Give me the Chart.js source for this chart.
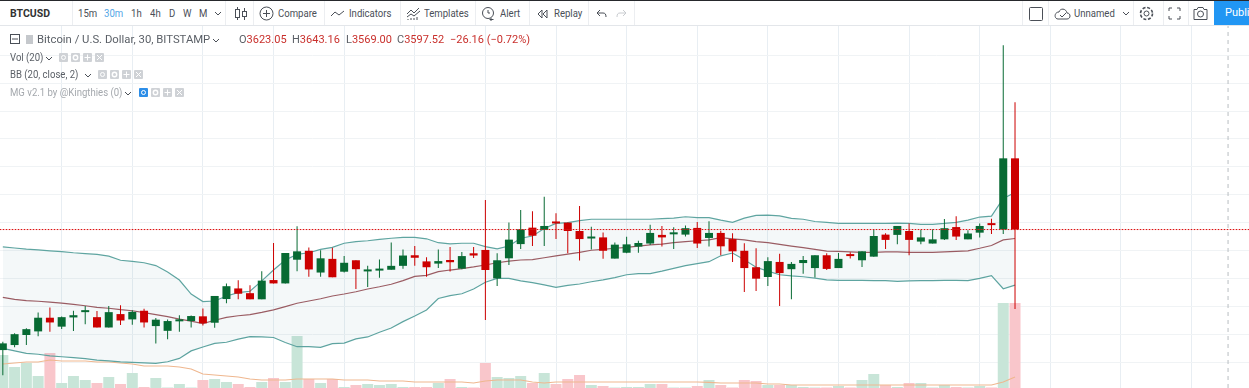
<!DOCTYPE html>
<html>
<head>
<meta charset="utf-8">
<title>BTCUSD</title>
<script src="https://cdn.jsdelivr.net/npm/chart.js@4/dist/chart.umd.js"></script>
<style>
    html, body { margin: 0; padding: 0; background: #fff; overflow: hidden; }
    body { width: 1249px; height: 388px; position: relative; font-family: Roboto, sans-serif; color: #4a4f57; }
    #priceChart { position: absolute; left: 0; top: 26px; }
    .t { position: absolute; white-space: nowrap; font-size: 11px; line-height: 14px; }
    .narrow { transform: scaleX(0.87); transform-origin: left center; }
    .bar { position: absolute; left: 0; top: 0; width: 1249px; height: 26px; background: #fff; border-bottom: 1px solid #e3e6ea; border-top: 1px solid #26282c; box-sizing: border-box; }
    .sep { position: absolute; top: 1px; height: 24px; width: 1px; background: #eceef1; }
    .ico { position: absolute; }
    .btn { position: absolute; width: 9px; height: 9px; background: #cfd2d6; border-radius: 1px; }
    .btn.on { background: #2d8ee8; }
    .btn svg { position: absolute; left: 0; top: 0; }
    .lg { font-size: 11px; color: #5a5f66; }
    .val { font-size: 11px; color: #c9302c; }
</style>
</head>
<body>
<canvas id="priceChart" width="1249" height="362"></canvas>

<div class="bar"></div>
<div id="toolbar"></div>
<div id="legend"></div>

<script>
// candles, oldest first
const opens = [3554.3, 3556.1, 3559.7, 3561.0, 3565.9, 3562.7, 3566.0, 3567.9, 3566.1, 3562.4, 3567.2, 3565.3, 3568.4, 3562.9, 3561.2, 3564.6, 3564.7, 3566.4, 3564.1, 3572.6, 3576.4, 3574.7, 3572.5, 3579.4, 3578.2, 3586.7, 3589.9, 3582.1, 3587.0, 3582.4, 3586.5, 3582.5, 3582.8, 3583.1, 3584.5, 3588.3, 3586.1, 3585.3, 3586.6, 3583.5, 3589.0, 3590.2, 3580.0, 3587.2, 3592.3, 3598.2, 3597.4, 3600.0, 3600.0, 3597.0, 3594.3, 3594.7, 3587.1, 3589.2, 3591.4, 3592.5, 3595.6, 3595.8, 3595.7, 3598.1, 3594.5, 3596.3, 3594.1, 3589.9, 3584.0, 3580.5, 3585.9, 3583.3, 3585.5, 3583.7, 3588.3, 3583.7, 3588.3, 3586.5, 3587.8, 3595.7, 3595.6, 3597.0, 3593.2, 3592.5, 3594.0, 3598.4, 3594.0, 3596.4, 3599.4, 3597.5, 3623.05];
const highs = [3557.3, 3560.3, 3562.1, 3567.8, 3569.6, 3566.3, 3568.4, 3570.1, 3568.3, 3570.1, 3570.4, 3568.6, 3569.1, 3565.8, 3565.3, 3566.8, 3566.7, 3569.2, 3573.7, 3578.2, 3579.3, 3577.5, 3582.6, 3592.7, 3589.1, 3598.7, 3591.1, 3590.1, 3591.0, 3588.0, 3586.5, 3584.5, 3586.8, 3592.9, 3590.4, 3591.6, 3587.6, 3590.4, 3591.3, 3589.5, 3591.3, 3608.1, 3589.0, 3600.0, 3604.5, 3604.1, 3609.3, 3603.4, 3600.0, 3606.0, 3598.5, 3596.5, 3592.9, 3594.9, 3593.5, 3599.2, 3598.8, 3598.3, 3599.0, 3600.2, 3600.5, 3597.1, 3596.2, 3592.6, 3590.8, 3587.6, 3588.8, 3585.9, 3588.0, 3588.3, 3589.0, 3589.1, 3589.4, 3589.7, 3597.6, 3596.2, 3598.8, 3599.7, 3597.4, 3597.6, 3601.3, 3602.3, 3597.3, 3599.7, 3601.4, 3663.6, 3643.16];
const lows = [3545.3, 3555.3, 3556.1, 3559.3, 3560.9, 3561.9, 3561.1, 3563.6, 3562.4, 3562.4, 3563.3, 3563.4, 3562.4, 3556.7, 3558.2, 3560.9, 3562.4, 3563.1, 3562.3, 3571.1, 3572.5, 3572.5, 3572.5, 3578.2, 3578.2, 3582.6, 3580.6, 3580.6, 3580.4, 3582.1, 3576.2, 3576.9, 3580.2, 3583.1, 3583.5, 3584.5, 3580.6, 3583.7, 3582.5, 3583.3, 3587.3, 3565.1, 3577.3, 3584.8, 3590.5, 3591.6, 3591.6, 3594.1, 3589.0, 3586.4, 3590.4, 3587.0, 3587.1, 3589.0, 3589.2, 3592.0, 3591.4, 3590.5, 3595.0, 3590.9, 3591.4, 3588.3, 3585.9, 3575.1, 3575.5, 3577.3, 3570.1, 3572.5, 3581.7, 3580.3, 3583.0, 3583.7, 3587.1, 3584.1, 3587.8, 3590.5, 3592.2, 3588.3, 3592.2, 3592.5, 3593.8, 3593.8, 3594.0, 3594.7, 3595.9, 3595.9, 3569.00];
const closes = [3556.7, 3560.0, 3561.8, 3565.9, 3564.2, 3566.1, 3566.8, 3568.2, 3562.4, 3567.9, 3564.9, 3568.0, 3564.2, 3565.2, 3564.7, 3565.0, 3566.5, 3563.9, 3573.7, 3577.2, 3574.5, 3572.5, 3579.2, 3578.2, 3589.1, 3589.7, 3583.2, 3587.2, 3580.4, 3585.6, 3583.3, 3583.0, 3583.4, 3584.5, 3588.2, 3587.4, 3584.0, 3586.2, 3585.8, 3588.0, 3588.2, 3583.0, 3586.5, 3593.9, 3597.6, 3595.3, 3598.8, 3599.7, 3597.0, 3594.1, 3594.7, 3589.9, 3592.1, 3592.2, 3592.7, 3596.3, 3594.7, 3596.3, 3598.0, 3592.5, 3596.3, 3591.5, 3589.7, 3583.7, 3579.9, 3586.2, 3581.9, 3585.2, 3586.6, 3588.3, 3583.4, 3587.0, 3588.0, 3589.7, 3595.2, 3593.8, 3598.8, 3593.8, 3594.7, 3594.0, 3598.0, 3595.0, 3596.1, 3598.8, 3599.1, 3623.05, 3597.52];
const volumes = [33, 21, 25, 12, 35, 5, 12, 8, 5, 11, 4, 15, 1, 10, 0.5, 4, 0.5, 8, 9, 6, 4, 1, 6, 10, 6, 52, 9, 5, 9, 1, 3, 4, 3, 4, 1, 1, 1, 5, 9, 1, 0.5, 25, 11, 10, 12, 5, 15, 4, 9, 13, 3, 2, 0.5, 1, 1, 4, 4, 0.5, 0.5, 2, 8, 3, 0.5, 8, 7, 3, 3, 3, 1, 0.5, 0.5, 2, 0.5, 8, 14, 3, 1, 5, 5, 0.5, 3, 1, 0.5, 2, 0.5, 85, 85];

// BB (20, close, 2)
const bbUpper = [3591.3, 3590.9, 3590.5, 3590.2, 3589.9, 3589.6, 3589.2, 3588.9, 3588.6, 3588.0, 3586.5, 3586.1, 3585.6, 3584.6, 3582.3, 3579.4, 3574.4, 3571.7, 3571.9, 3573.7, 3574.9, 3575.4, 3579.1, 3583.0, 3586.6, 3588.6, 3589.2, 3590.4, 3591.1, 3592.6, 3593.2, 3593.5, 3594.0, 3594.4, 3594.7, 3594.7, 3594.2, 3592.8, 3592.4, 3592.6, 3592.6, 3591.4, 3590.6, 3591.6, 3594.4, 3595.2, 3597.9, 3599.7, 3600.0, 3600.7, 3601.2, 3601.2, 3601.2, 3601.2, 3601.2, 3601.2, 3601.4, 3601.6, 3602.1, 3601.8, 3601.8, 3600.9, 3600.1, 3601.6, 3602.6, 3602.7, 3602.4, 3601.5, 3601.2, 3600.4, 3600.1, 3599.7, 3599.7, 3599.7, 3599.7, 3599.7, 3599.8, 3599.7, 3599.4, 3599.4, 3599.7, 3600.1, 3600.9, 3602.0, 3602.3, 3608.7, 3610.8];
const bbBasis = [3573.2, 3572.5, 3572.0, 3571.8, 3571.5, 3571.1, 3570.7, 3570.2, 3569.6, 3569.3, 3568.8, 3568.4, 3567.7, 3567.0, 3566.3, 3565.4, 3564.7, 3563.8, 3565.0, 3566.0, 3566.6, 3567.0, 3567.8, 3568.7, 3569.9, 3571.1, 3571.9, 3572.7, 3573.7, 3574.4, 3575.2, 3576.2, 3577.0, 3577.9, 3579.2, 3580.7, 3581.1, 3582.4, 3583.0, 3583.5, 3584.1, 3584.8, 3585.6, 3586.2, 3586.6, 3586.7, 3587.4, 3588.1, 3588.7, 3589.3, 3590.1, 3590.4, 3590.8, 3591.1, 3591.6, 3592.0, 3592.3, 3592.8, 3593.2, 3593.5, 3593.8, 3594.6, 3594.2, 3593.8, 3593.2, 3592.8, 3592.2, 3591.6, 3591.0, 3590.4, 3589.8, 3589.7, 3589.5, 3589.3, 3589.3, 3589.5, 3589.5, 3589.3, 3589.3, 3589.3, 3589.5, 3589.7, 3589.9, 3590.8, 3591.8, 3593.8, 3594.3];
const bbLower = [3554.9, 3554.0, 3553.1, 3552.8, 3552.2, 3551.9, 3551.6, 3551.2, 3550.7, 3550.4, 3550.1, 3549.9, 3549.7, 3549.5, 3550.1, 3551.3, 3554.0, 3555.4, 3556.7, 3557.1, 3558.2, 3559.1, 3559.0, 3558.8, 3557.0, 3555.5, 3555.5, 3555.3, 3556.6, 3556.8, 3558.3, 3559.0, 3560.7, 3562.2, 3564.5, 3566.5, 3568.7, 3572.8, 3573.8, 3574.5, 3576.2, 3578.6, 3580.0, 3580.0, 3579.1, 3578.5, 3577.7, 3576.8, 3577.5, 3578.0, 3578.8, 3579.5, 3580.3, 3581.3, 3581.7, 3581.7, 3582.6, 3583.6, 3584.6, 3585.3, 3586.0, 3588.1, 3589.1, 3586.7, 3584.0, 3582.6, 3581.3, 3580.9, 3580.6, 3580.1, 3579.5, 3579.3, 3579.3, 3579.3, 3579.2, 3579.2, 3578.9, 3579.1, 3579.2, 3579.2, 3579.3, 3579.3, 3579.2, 3580.0, 3581.0, 3576.3, 3577.6];

// Vol (20) moving average
const volMa = [24, 25, 26, 26, 28, 27, 27, 27, 26, 26, 25, 24, 22, 22, 22, 21, 19, 14, 13, 12, 11, 9, 8, 8, 8, 9, 9, 9, 9, 8, 8, 8, 7, 7, 7, 6, 6, 6, 6, 6, 5, 7, 8, 8, 8, 6, 5, 6, 6, 6, 6, 6, 6, 6, 6, 6, 6, 6, 6, 6, 5.7, 5, 5, 5, 5, 4, 4, 3, 3, 3, 3, 3, 3, 3, 3, 3, 3, 3, 3, 3, 3, 3, 3, 3, 3, 6, 11];

// axis settings
const priceGrid = [3550, 3560, 3570, 3580, 3590, 3600, 3610, 3620, 3630, 3640, 3650, 3660];
const timeGrid = [5, 11, 17, 23, 29, 35, 41, 47, 53, 59, 65, 71, 77, 83, 89, 95, 101];
const lastClose = 3597.52;
const cursorIndex = 104.1;
const priceMin = 3540.7;
const priceMax = 3670.5;
const indexMin = -0.24;
const indexMax = 105.88;

const upColor = "#076a33";
const downColor = "#cc0000";
const upVol = "#c8e5d8";
const downVol = "#f9c6cb";

const candleColors = closes.map((c, i) => (c >= opens[i] ? upColor : downColor));
const volColors = closes.map((c, i) => (c >= opens[i] ? upVol : downVol));
const toPoints = (values) => values.map((v, i) => ({ x: i, y: v }));

function lineSet(values, color, extra) {
    return Object.assign({
        type: "line",
        data: toPoints(values),
        borderColor: color,
        borderWidth: 1.2,
        pointRadius: 0,
        tension: 0,
        fill: false,
        order: 6,
    }, extra);
}

new Chart(document.getElementById("priceChart"), {
    type: "bar",
    data: {
        datasets: [
            lineSet(bbUpper, "#5fa5a1", { fill: "+1", backgroundColor: "rgba(60,140,150,0.06)" }),
            lineSet(bbLower, "#5fa5a1"),
            lineSet(bbBasis, "#a05a60"),
            lineSet(volMa, "#efb78f", { yAxisID: "yVol", order: 7 }),
            {
                data: toPoints(volumes),
                yAxisID: "yVol",
                backgroundColor: volColors,
                barThickness: 11,
                inflateAmount: 0,
                grouped: false,
                order: 8,
            },
            {
                data: highs.map((h, i) => ({ x: i, y: [lows[i], h] })),
                backgroundColor: candleColors,
                barThickness: 1,
                inflateAmount: 0,
                grouped: false,
                order: 3,
            },
            {
                data: opens.map((o, i) => ({ x: i, y: [o, closes[i]] })),
                backgroundColor: candleColors,
                barThickness: 8,
                inflateAmount: 0,
                minBarLength: 2,
                grouped: false,
                order: 2,
            },
            {
                type: "line",
                data: [{ x: indexMin, y: lastClose }, { x: indexMax, y: lastClose }],
                borderColor: "rgba(225,40,40,0.35)",
                borderWidth: 1,
                pointRadius: 0,
                order: 1,
            },
            {
                type: "line",
                data: [{ x: indexMin, y: lastClose }, { x: indexMax, y: lastClose }],
                borderColor: "#d80000",
                borderWidth: 1,
                borderDash: [1, 2],
                pointRadius: 0,
                order: 1,
            },
            {
                type: "line",
                data: [{ x: cursorIndex, y: priceMin }, { x: cursorIndex, y: priceMax }],
                borderColor: "#b9bdc2",
                borderWidth: 1,
                borderDash: [4, 4],
                pointRadius: 0,
                order: 1,
            },
        ],
    },
    options: {
        responsive: false,
        animation: false,
        layout: { padding: 0 },
        plugins: { legend: { display: false }, tooltip: { enabled: false } },
        scales: {
            x: {
                type: "linear",
                min: indexMin,
                max: indexMax,
                offset: false,
                grid: { offset: false, color: "#e8eef3", drawTicks: false },
                border: { display: false },
                ticks: { display: false },
                afterBuildTicks: (scale) => { scale.ticks = timeGrid.map((v) => ({ value: v })); },
            },
            y: {
                type: "linear",
                min: priceMin,
                max: priceMax,
                grid: { color: "#f0f3f5", drawTicks: false },
                border: { display: false },
                ticks: { display: false },
                afterBuildTicks: (scale) => { scale.ticks = priceGrid.map((v) => ({ value: v })); },
            },
            yVol: {
                type: "linear",
                display: false,
                min: 0,
                max: 362,
            },
        },
    },
});

// toolbar and legend are plain html text over the chart
const toolbarTexts = [
    ["BTCUSD", 10, 7, "font-weight:700;color:#333;font-size:10.5px"],
    ["15m", 78, 7, ""],
    ["30m", 104, 7, "color:#54a6e6"],
    ["1h", 131, 7, ""],
    ["4h", 150, 7, ""],
    ["D", 169, 7, ""],
    ["W", 183, 7, ""],
    ["M", 199, 7, ""],
    ["Compare", 278, 7, ""],
    ["Indicators", 349, 7, ""],
    ["Templates", 424, 7, ""],
    ["Alert", 500, 7, ""],
    ["Replay", 554, 7, ""],
    ["Unnamed", 1074, 7, ""],
];
const separators = [72, 225, 253, 324, 400, 475, 529, 588, 634, 1022, 1048, 1133, 1163, 1188];

const toolbar = document.getElementById("toolbar");
let html = "";
separators.forEach(function (x) {
    html += `<div class="sep" style="left:${x}px"></div>`;
});
toolbarTexts.forEach(function (item, i) {
    const cls = i === 0 ? "t" : "t narrow";
    html += `<div class="${cls}" style="left:${item[1]}px;top:${item[2]}px;${item[3]}">${item[0]}</div>`;
});
const stroke = 'fill="none" stroke="#4a4f57" stroke-width="1"';
html += `<svg class="ico" style="left:214px;top:11px" width="8" height="6"><path d="M1 1l3 3 3-3" ${stroke}/></svg>`;
html += `<svg class="ico" style="left:234px;top:6px" width="14" height="15"><path d="M3.5 1v13M10.5 2v12" ${stroke}/><rect x="1.5" y="3.5" width="4" height="8" fill="#fff" stroke="#4a4f57"/><rect x="8.5" y="5.5" width="4" height="5" fill="#fff" stroke="#4a4f57"/></svg>`;
html += `<svg class="ico" style="left:259px;top:6px" width="15" height="15"><circle cx="7.5" cy="7.5" r="6.5" ${stroke}/><path d="M7.5 4v7M4 7.5h7" ${stroke}/></svg>`;
html += `<svg class="ico" style="left:330px;top:9px" width="15" height="9"><path d="M1 7l4-4 4 3 5-4" ${stroke}/></svg>`;
html += `<svg class="ico" style="left:406px;top:6px" width="15" height="15"><path d="M1 8l4-4 3 3 5-5M1 11l4-3 3 2 6-5" ${stroke}/><path d="M2 14v-1M5 14v-2M8 14v-2M11 14v-3" ${stroke}/></svg>`;
html += `<svg class="ico" style="left:481px;top:5px" width="15" height="17"><circle cx="7" cy="8" r="5.5" ${stroke}/><path d="M7 5v3h2M10 13v3M8.5 14.5h4" ${stroke}/></svg>`;
html += `<svg class="ico" style="left:537px;top:9px" width="12" height="10"><path d="M5 1L1 5l4 4zM10 1L6 5l4 4z" ${stroke}/></svg>`;
html += `<svg class="ico" style="left:596px;top:9px" width="11" height="9"><path d="M4 1L1 4l3 3M1 4h6c2 0 3 1 3 4" ${stroke}/></svg>`;
html += `<svg class="ico" style="left:616px;top:9px" width="11" height="9"><path d="M7 1l3 3-3 3M10 4H4C2 4 1 5 1 8" fill="none" stroke="#c9ccd0"/></svg>`;
html += `<svg class="ico" style="left:1029px;top:7px" width="14" height="14"><rect x="0.5" y="0.5" width="13" height="13" rx="1" ${stroke}/></svg>`;
html += `<svg class="ico" style="left:1054px;top:7px" width="17" height="13"><path d="M4 12h9c4 0 4-6 0-6C12 1 6 1 5 5 0 5 0 12 4 12zM6 8l2 2 4-4" ${stroke}/></svg>`;
html += `<svg class="ico" style="left:1122px;top:11px" width="8" height="6"><path d="M1 1l3 3 3-3" ${stroke}/></svg>`;
html += `<svg class="ico" style="left:1139px;top:6px" width="15" height="15"><circle cx="7.5" cy="7.5" r="2.5" ${stroke}/><circle cx="7.5" cy="7.5" r="6" fill="none" stroke="#4a4f57" stroke-dasharray="3 1.7" stroke-width="1.6"/></svg>`;
html += `<svg class="ico" style="left:1168px;top:7px" width="13" height="13"><path d="M1 4V1h3M9 1h3v3M12 9v3H9M4 12H1V9" ${stroke}/></svg>`;
html += `<svg class="ico" style="left:1193px;top:6px" width="15" height="14"><path d="M1 3.5h3l1-2h5l1 2h3v10H1z" ${stroke}/><circle cx="7.5" cy="8" r="3" ${stroke}/></svg>`;
html += `<div style="position:absolute;left:1214px;top:1px;width:35px;height:24px;background:#2196f3;overflow:hidden"><div class="t" style="left:11px;top:5px;color:#fff">Publish</div></div>`;
toolbar.innerHTML = html;

const legendRows = [
    { text: "Bitcoin / U.S. Dollar, 30, BITSTAMP", x: 37, y: 33, color: "#5a5f66", chevron: 212, buttons: [], cls: "", size: "11.3px" },
    { text: "Vol (20)", x: 10, y: 51, color: "#5a5f66", chevron: 45, buttons: [59, 71, 83, 95], cls: " narrow", size: "11px" },
    { text: "BB (20, close, 2)", x: 10, y: 68, color: "#5a5f66", chevron: 84, buttons: [98, 110, 122, 134], cls: " narrow", size: "11px" },
    { text: "MG v2.1 by @Kingthies (0)", x: 10, y: 86, color: "#a4a8ad", chevron: 124, buttons: [139, 151, 163, 175], cls: " narrow", size: "11px" },
];
const ohlcLabels = ["O", "H", "L", "C"];
const ohlcValues = ["3623.05", "3643.16", "3569.00", "3597.52"];
const ohlcPositions = [239, 292, 346, 397];
const buttonGlyphs = [
    '<circle cx="4.5" cy="4.5" r="2" fill="none" stroke="#fff"/>',
    '<circle cx="4.5" cy="4.5" r="2.2" fill="none" stroke="#fff" stroke-width="1.4"/>',
    '<path d="M4.5 1.5v6M1.5 4.5h6" stroke="#fff"/>',
    '<path d="M2 2l5 5M7 2l-5 5" stroke="#fff"/>',
];

const legend = document.getElementById("legend");
let legendHtml = `<svg class="ico" style="left:10px;top:34px" width="11" height="11"><rect x="0.5" y="0.5" width="9" height="9" ${stroke}/><path d="M2 5h6" ${stroke}/></svg>`;
legendHtml += `<div class="ico" style="left:26px;top:35px;width:7px;height:9px;background:#c5c8cc"></div>`;
legendRows.forEach(function (row, r) {
    legendHtml += `<div class="t lg${row.cls}" style="left:${row.x}px;top:${row.y}px;color:${row.color};font-size:${row.size}">${row.text}</div>`;
    legendHtml += `<svg class="ico" style="left:${row.chevron}px;top:${row.y + 5}px" width="8" height="6"><path d="M1 1l3 3 3-3" ${stroke}/></svg>`;
    row.buttons.forEach(function (x, b) {
        const on = r === 3 && b === 0 ? " on" : "";
        legendHtml += `<div class="btn${on}" style="left:${x}px;top:${row.y + 2}px"><svg width="9" height="9">${buttonGlyphs[b]}</svg></div>`;
    });
});
ohlcValues.forEach(function (v, i) {
    legendHtml += `<div class="t lg" style="left:${ohlcPositions[i]}px;top:33px">${ohlcLabels[i]}<span class="val">${v}</span></div>`;
});
legendHtml += `<div class="t val" style="left:450px;top:33px">−26.16 (−0.72%)</div>`;
legend.innerHTML = legendHtml;
</script>
</body>
</html>
